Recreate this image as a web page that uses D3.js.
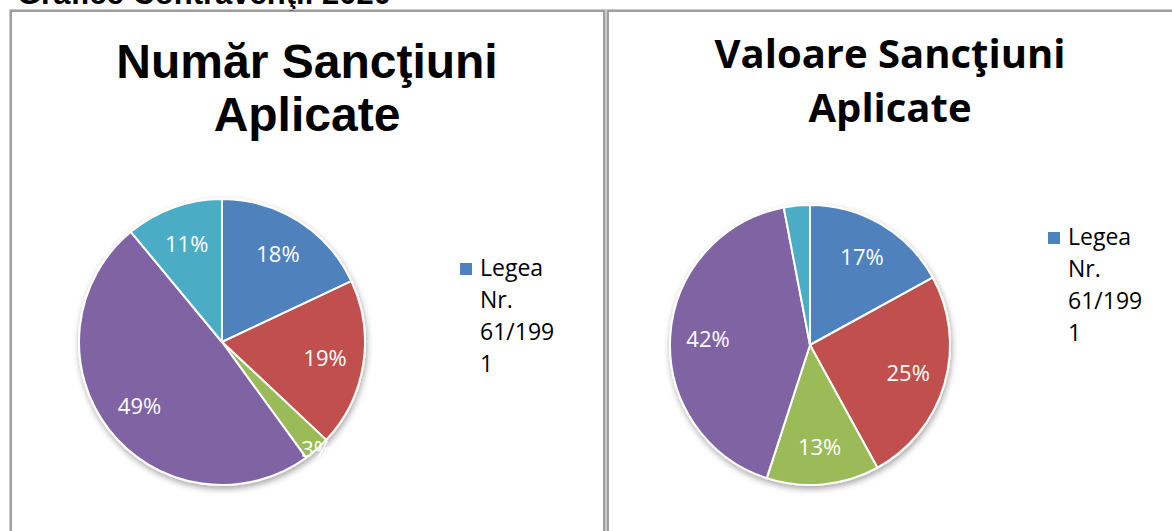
<!DOCTYPE html>
<html>
<head>
<meta charset="utf-8">
<script src="https://cdn.jsdelivr.net/npm/d3@7"></script>
<style>
  body { margin: 0; background: #fff; }
  svg { display: block; }
</style>
</head>
<body>
<div id="chart"></div>
<script>
var w = 1172, h = 531;

// slice colours (office palette)
var sliceColors = ["#4F81BD", "#C0504D", "#9BBB59", "#8064A2", "#4BACC6"];

// chart 1 - numar sanctiuni
var numarValues = [18, 19, 3, 49, 11];
var numarLabels = ["18%", "19%", "3%", "49%", "11%"];

// chart 2 - valoare sanctiuni (last slice has no label in the original)
var valoareValues = [17, 25, 13, 42, 3];
var valoareLabels = ["17%", "25%", "13%", "42%", null];

// legend text, wrapped like in the original
var legendLines = ["Legea", "Nr.", "61/199", "1"];

var svg = d3.select("#chart").append("svg")
    .attr("width", w).attr("height", h);

svg.html(`<defs>
<filter id="pieShadow" x="-20%" y="-20%" width="140%" height="140%">
  <feDropShadow dx="1" dy="3" stdDeviation="3" flood-color="#000" flood-opacity="0.35"/>
</filter>
</defs>`);

// page heading, mostly cut off at the top
svg.append("text")
    .attr("x", 17).attr("y", 4)
    .attr("font-family", "Liberation Sans, Arial, sans-serif")
    .attr("font-weight", "bold")
    .attr("font-size", 31)
    .text("Grafice Contravenţii 2020");

// table cells (double grey border)
function cellBorder(x, y, cw, ch) {
    svg.append("rect").attr("x", x).attr("y", y).attr("width", cw).attr("height", ch)
        .attr("fill", "none").attr("stroke", "#c8c8c8").attr("stroke-width", 1);
    svg.append("rect").attr("x", x + 1.5).attr("y", y + 1.5).attr("width", cw - 3).attr("height", ch - 3)
        .attr("fill", "none").attr("stroke", "#808080").attr("stroke-width", 1.5);
}
cellBorder(9.5, 9.5, 596, 540);
cellBorder(606.5, 9.5, 600, 540);

// draws one pie with its labels
function drawPie(values, labels, cx, cy, r) {
    var pie = d3.pie().sort(null).value(d => d);
    var arcs = pie(values);
    var arc = d3.arc().innerRadius(0).outerRadius(r);
    var labelArc = d3.arc().innerRadius(r * 0.73).outerRadius(r * 0.73);
    var smallArc = d3.arc().innerRadius(r * 1.0).outerRadius(r * 1.0);

    var g = svg.append("g").attr("transform", "translate(" + cx + "," + cy + ")");

    g.append("g").attr("filter", "url(#pieShadow)")
        .selectAll("path").data(arcs).enter().append("path")
        .attr("d", arc)
        .attr("fill", (d, i) => sliceColors[i])
        .attr("stroke", "#fff")
        .attr("stroke-width", 2)
        .attr("stroke-linejoin", "round");

    g.selectAll("text.lbl").data(arcs).enter().append("text")
        .attr("class", "lbl")
        .filter((d, i) => labels[i] != null)
        .attr("transform", d => "translate(" + (d.value < 5 ? smallArc : labelArc).centroid(d) + ")")
        .attr("text-anchor", "middle")
        .attr("dy", "0.36em")
        .attr("font-family", "Open Sans, sans-serif")
        .attr("font-size", 22)
        .attr("fill", "#fff")
        .text((d, i) => labels[i]);
}

function drawLegend(x, y) {
    var lg = svg.append("g").attr("transform", "translate(" + x + "," + y + ")");
    lg.append("rect").attr("x", 0).attr("y", -13).attr("width", 12).attr("height", 12)
        .attr("fill", sliceColors[0]);
    lg.selectAll("text").data(legendLines).enter().append("text")
        .attr("x", 20)
        .attr("y", (d, i) => i * 32)
        .attr("font-family", "Open Sans, sans-serif")
        .attr("font-size", 23)
        .attr("fill", "#000")
        .text(d => d);
}

// left chart
var t1 = svg.append("g")
    .attr("font-family", "Liberation Sans, Arial, sans-serif")
    .attr("font-weight", "bold")
    .attr("font-size", 48)
    .attr("text-anchor", "middle");
t1.append("text").attr("x", 307).attr("y", 78).text("Număr Sancţiuni");
t1.append("text").attr("x", 307).attr("y", 131).text("Aplicate");

drawPie(numarValues, numarLabels, 222, 342, 143);
drawLegend(460, 276);

// right chart
var t2 = svg.append("g")
    .attr("font-family", "Open Sans, sans-serif")
    .attr("font-weight", "bold")
    .attr("font-size", 40)
    .attr("text-anchor", "middle");
t2.append("text").attr("x", 890).attr("y", 68).text("Valoare Sancţiuni");
t2.append("text").attr("x", 890).attr("y", 122).text("Aplicate");

drawPie(valoareValues, valoareLabels, 810, 345, 140);
drawLegend(1048, 245);
</script>
</body>
</html>
